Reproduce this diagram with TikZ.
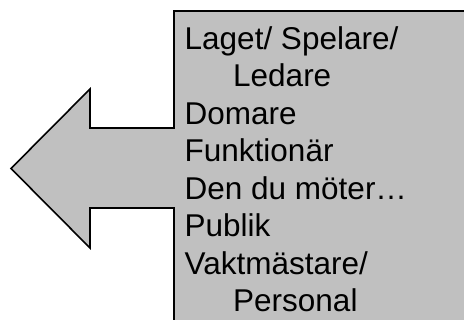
\documentclass[tikz,border=0pt]{standalone}
\usepackage{fontspec}
\setmainfont{Liberation Sans}
\definecolor{boxgray}{HTML}{C0C0C0}
\begin{document}
\begin{tikzpicture}[x=1pt,y=-1pt,
  txt/.style={anchor=base west,inner sep=0pt,font=\fontsize{31.5}{37.5}\selectfont,text=black},
  calloutshape/.style={fill=boxgray,draw=black,line width=1.6pt,line join=miter}]
\useasboundingbox (0,0) rectangle (464,320);
\begin{scope}
\clip (0,0) rectangle (464,320);
\draw[calloutshape] (174,330) -- (174,208) -- (90,208) -- (90,248) -- (11,168.5) -- (90,89) -- (90,128) -- (174,128) -- (174,11) -- (475,11) -- (475,330) -- cycle;
\end{scope}
\node[txt] (l1) at (184.5,49.3) {Laget/ Spelare/};
\node[txt] (l2) at (233,86.8) {Ledare};
\node[txt] (l3) at (184.5,124.3) {Domare};
\node[txt] (l4) at (184.5,161.8) {Funktionär};
\node[txt] (l5) at (184.5,199.3) {Den du möter…};
\node[txt] (l6) at (184.5,236.8) {Publik};
\node[txt] (l7) at (184.5,274.3) {Vaktmästare/};
\node[txt] (l8) at (233,311.8) {Personal};
\end{tikzpicture}
\end{document}
